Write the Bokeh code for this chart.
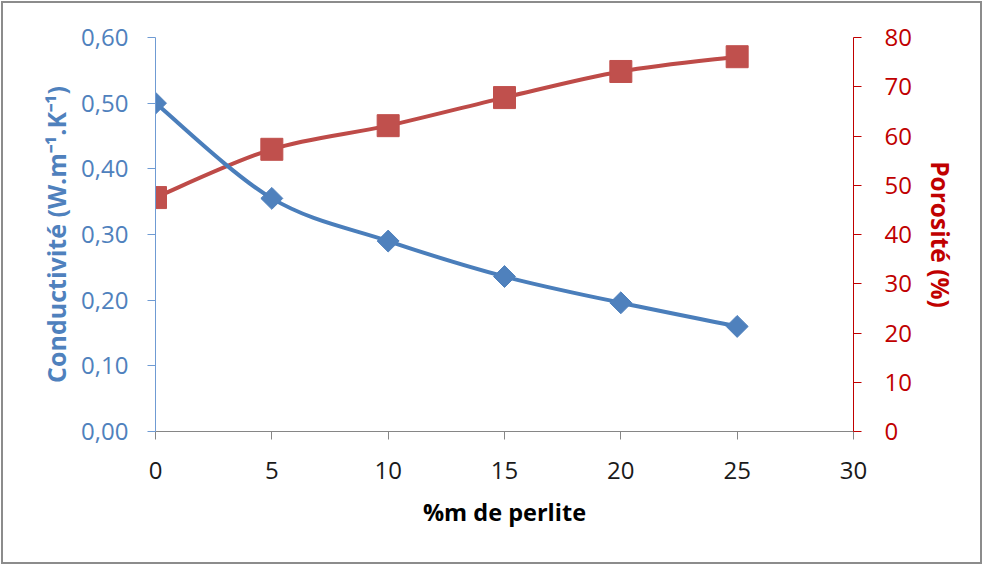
import numpy as np
from bokeh.plotting import figure
from bokeh.models import LinearAxis, Range1d, FixedTicker
from bokeh.embed import file_html
from bokeh.resources import INLINE

# ---- data ----
perlite = [0, 5, 10, 15, 20, 25]
conductivite = [0.50, 0.355, 0.29, 0.236, 0.196, 0.16]
porosite = [47.5, 57.3, 62.1, 67.8, 73.1, 76.1]

x_ticks = [0, 5, 10, 15, 20, 25, 30]
cond_ticks = [0.0, 0.1, 0.2, 0.3, 0.4, 0.5, 0.6]
cond_tick_labels = ["0,00", "0,10", "0,20", "0,30", "0,40", "0,50", "0,60"]
por_ticks = [0, 10, 20, 30, 40, 50, 60, 70, 80]

x_title = "%m de perlite"
cond_title = "Conductivité (W.m\u207b\u00b9.K\u207b\u00b9)"
por_title = "Porosité (%)"

BLUE_LINE = "#4A7EBB"
BLUE_MARK = "#4F81BD"
BLUE_AXIS = "#6F9BD3"
BLUE_TEXT = "#4F81BD"
RED_LINE = "#BE4B48"
RED_MARK = "#C0504D"
RED_TEXT = "#C00000"
GREY = "#868686"
FONT = "Open Sans"


def bezier_segments(xs, ys):
    """Smooth (Catmull-Rom style) cubic segments through the data points."""
    n = len(xs)
    out = {k: [] for k in ("x0", "y0", "x1", "y1", "cx0", "cy0", "cx1", "cy1")}
    for i in range(n - 1):
        a = i - 1 if i > 0 else i
        d = i + 2 if i + 2 < n else i + 1
        out["x0"].append(xs[i]); out["y0"].append(ys[i])
        out["x1"].append(xs[i + 1]); out["y1"].append(ys[i + 1])
        out["cx0"].append(xs[i] + (xs[i + 1] - xs[a]) / 6.0)
        out["cy0"].append(ys[i] + (ys[i + 1] - ys[a]) / 6.0)
        out["cx1"].append(xs[i + 1] - (xs[d] - xs[i]) / 6.0)
        out["cy1"].append(ys[i + 1] - (ys[d] - ys[i]) / 6.0)
    return out


p = figure(width=981, height=563,
           x_range=Range1d(0, 30), y_range=Range1d(0, 0.6),
           output_backend="svg", toolbar_location=None,
           min_border_left=152, min_border_right=131,
           min_border_top=34, min_border_bottom=135)
p.styles = {"border": "2px solid #8c8c8c", "margin": "1px 0px 0px 1px"}
p.extra_y_ranges = {"por": Range1d(0, 80)}
p.xgrid.visible = False
p.ygrid.visible = False
p.outline_line_color = None
p.background_fill_color = "white"
p.border_fill_color = "white"

# x axis
xa = p.xaxis[0]
xa.ticker = FixedTicker(ticks=x_ticks)
xa.axis_line_color = GREY
xa.major_tick_line_color = GREY
xa.major_tick_out = 8
xa.major_tick_in = 0
xa.minor_tick_line_color = None
xa.major_label_text_font = FONT
xa.major_label_text_font_size = "24px"
xa.major_label_text_color = "#1a1a1a"
xa.major_label_standoff = 22
xa.axis_label = x_title
xa.axis_label_text_font = FONT
xa.axis_label_text_font_size = "23.5px"
xa.axis_label_text_font_style = "bold"
xa.axis_label_text_color = "black"
xa.axis_label_standoff = 14

# left axis
ya = p.yaxis[0]
ya.ticker = FixedTicker(ticks=cond_ticks)
ya.major_label_overrides = dict(zip(cond_ticks, cond_tick_labels))
ya.axis_line_color = BLUE_AXIS
ya.major_tick_line_color = BLUE_AXIS
ya.major_tick_out = 8
ya.major_tick_in = 0
ya.minor_tick_line_color = None
ya.major_label_text_font = FONT
ya.major_label_text_font_size = "24px"
ya.major_label_text_color = BLUE_TEXT
ya.major_label_standoff = 19
ya.axis_label = cond_title
ya.axis_label_text_font = FONT
ya.axis_label_text_font_size = "25px"
ya.axis_label_text_font_style = "bold"
ya.axis_label_text_color = BLUE_TEXT
ya.axis_label_standoff = 5

# right axis
ra = LinearAxis(y_range_name="por")
ra.ticker = FixedTicker(ticks=por_ticks)
ra.axis_line_color = RED_TEXT
ra.major_tick_line_color = RED_TEXT
ra.major_tick_out = 8
ra.major_tick_in = 0
ra.minor_tick_line_color = None
ra.major_label_text_font = FONT
ra.major_label_text_font_size = "24px"
ra.major_label_text_color = RED_TEXT
ra.major_label_standoff = 23
ra.axis_label = por_title
ra.axis_label_text_font = FONT
ra.axis_label_text_font_size = "24.5px"
ra.axis_label_text_font_style = "bold"
ra.axis_label_text_color = RED_TEXT
ra.axis_label_standoff = 9
p.add_layout(ra, "right")

# porosity series (drawn first)
rb = bezier_segments(perlite, porosite)
p.bezier(x0=rb["x0"], y0=rb["y0"], x1=rb["x1"], y1=rb["y1"],
         cx0=rb["cx0"], cy0=rb["cy0"], cx1=rb["cx1"], cy1=rb["cy1"],
         line_color=RED_LINE, line_width=4, y_range_name="por")
p.scatter(perlite, porosite, marker="square", size=22,
          fill_color=RED_MARK, line_color=RED_MARK, y_range_name="por")

# conductivity series
bb = bezier_segments(perlite, conductivite)
p.bezier(x0=bb["x0"], y0=bb["y0"], x1=bb["x1"], y1=bb["y1"],
         cx0=bb["cx0"], cy0=bb["cy0"], cx1=bb["cx1"], cy1=bb["cy1"],
         line_color=BLUE_LINE, line_width=4)
p.scatter(perlite, conductivite, marker="square", size=15.5, angle=np.pi / 4,
          fill_color=BLUE_MARK, line_color=BLUE_MARK)

open("out.html", "w").write(file_html(p, INLINE))
